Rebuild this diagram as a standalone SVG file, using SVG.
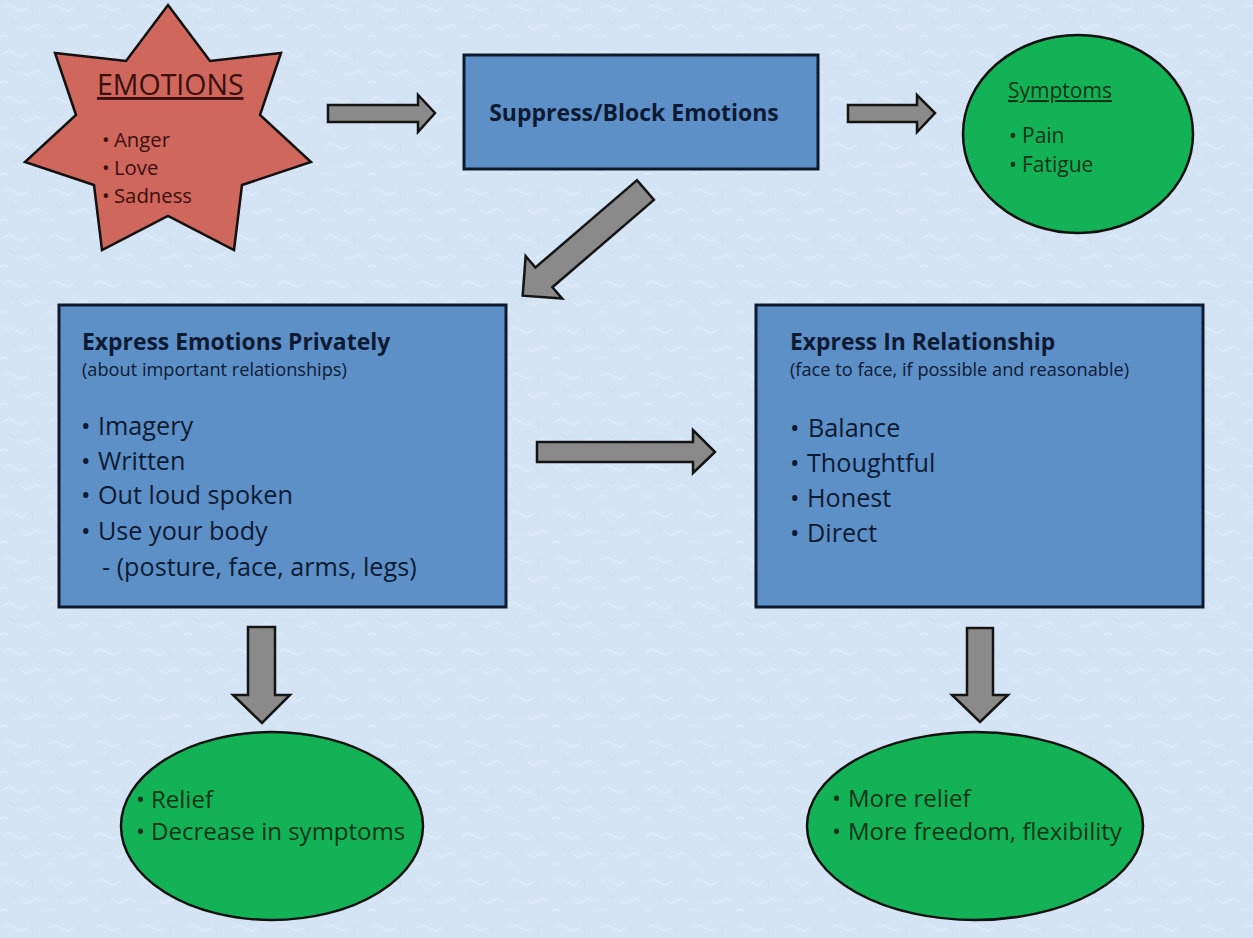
<svg xmlns="http://www.w3.org/2000/svg" width="1253" height="938" viewBox="0 0 1253 938">
<defs>
<pattern id="tex" width="46" height="46" patternUnits="userSpaceOnUse">
<rect width="46" height="46" fill="#d5e4f4"/>
<path d="M3 8 q6 -5 12 0 t12 0 M22 27 q5 4 10 0 t10 0 M0 37 q4 -3 8 0" stroke="#dde9f7" stroke-width="2" fill="none"/>
<path d="M10 20 q3 5 8 2 M30 6 q4 3 2 8" stroke="#cfe0f2" stroke-width="1.5" fill="none"/>
</pattern>
</defs>
<style>
.t{font-family:"Open Sans","Noto Sans","Liberation Sans",sans-serif}
.box{fill:#5e90c8;stroke:#0e1a2c;stroke-width:3}
.ell{fill:#13b257;stroke:#111;stroke-width:2.5}
.arr{fill:#8a8a8a;stroke:#141414;stroke-width:2.5;stroke-linejoin:miter}
.nv{fill:#0c1a33}
.gr{fill:#0b3516}
.rd{fill:#3a0f0c}
.b25{font-size:25.2px}
.b24{font-size:24px}
.tt{font-size:22.9px;font-weight:bold}
.st{font-size:18.2px}
</style>
<rect width="1253" height="938" fill="url(#tex)"/>

<g id="emotions">
<polygon points="168,5 210,61 281,53 260,115 311,162 242,185 234,250 168,216 102,250 94,185 25,162 76,115 55,53 126,61" fill="#cf675d" stroke="#111" stroke-width="2.5" stroke-linejoin="miter"/>
<text class="t rd" x="97" y="95" font-size="28.5" text-decoration="underline">EMOTIONS</text>
<g class="t rd" font-size="20.3">
<text x="102" y="147">•</text><text x="114" y="147">Anger</text>
<text x="102" y="175">•</text><text x="114" y="175">Love</text>
<text x="102" y="203">•</text><text x="114" y="203">Sadness</text>
</g>
</g>

<g id="suppress">
<rect class="box" x="464" y="55" width="354" height="114"/>
<text class="t nv" x="634" y="121" font-size="23" font-weight="bold" text-anchor="middle">Suppress/Block Emotions</text>
</g>

<g id="symptoms">
<ellipse class="ell" cx="1078" cy="134" rx="115" ry="99"/>
<text class="t gr" x="1008" y="98" font-size="21" text-decoration="underline">Symptoms</text>
<g class="t gr" font-size="21">
<text x="1009" y="143">•</text><text x="1022" y="143">Pain</text>
<text x="1009" y="172">•</text><text x="1022" y="172">Fatigue</text>
</g>
</g>

<g id="private">
<rect class="box" x="59" y="305" width="447" height="302"/>
<text class="t nv tt" x="82" y="350">Express Emotions Privately</text>
<text class="t nv st" x="82" y="376">(about important relationships)</text>
<g class="t nv b25">
<text x="81" y="435">•</text><text x="98" y="435">Imagery</text>
<text x="81" y="470">•</text><text x="98" y="470">Written</text>
<text x="81" y="504">•</text><text x="98" y="504">Out loud spoken</text>
<text x="81" y="540">•</text><text x="98" y="540">Use your body</text>
<text x="102" y="576">- (posture, face, arms, legs)</text>
</g>
</g>

<g id="relationship">
<rect class="box" x="756" y="305" width="447" height="302"/>
<text class="t nv tt" x="790" y="350">Express In Relationship</text>
<text class="t nv st" x="790" y="376">(face to face, if possible and reasonable)</text>
<g class="t nv b25">
<text x="790" y="437">•</text><text x="808" y="437">Balance</text>
<text x="790" y="472">•</text><text x="807" y="472">Thoughtful</text>
<text x="790" y="507">•</text><text x="807" y="507">Honest</text>
<text x="790" y="542">•</text><text x="807" y="542">Direct</text>
</g>
</g>

<g id="relief">
<ellipse class="ell" cx="272" cy="826" rx="151" ry="94"/>
<g class="t gr b24">
<text x="136" y="808">•</text><text x="151" y="808">Relief</text>
<text x="136" y="840">•</text><text x="151" y="840">Decrease in symptoms</text>
</g>
</g>

<g id="more-relief">
<ellipse class="ell" cx="975" cy="826" rx="168" ry="94"/>
<g class="t gr b24">
<text x="832" y="807">•</text><text x="848" y="807">More relief</text>
<text x="832" y="840">•</text><text x="848" y="840">More freedom, flexibility</text>
</g>
</g>

<g id="connectors">
<polygon class="arr" points="328,105 418,105 418,95 435,113 418,132 418,122 328,122"/>
<polygon class="arr" points="848,105 917,105 917,95 935,113 917,132 917,122 848,122"/>
<polygon class="arr" transform="translate(645.5,190) rotate(139.3)" points="0,-13 134,-13 134,-28 162,0 134,28 134,13 0,13"/>
<polygon class="arr" points="537,442 693,442 693,430 715,452 693,473 693,462 537,462"/>
<polygon class="arr" points="248,627 275,627 275,695 290,695 262,723 233,695 248,695"/>
<polygon class="arr" points="967,628 993,628 993,695 1008,695 980,722 952,695 967,695"/>
</g>
</svg>
